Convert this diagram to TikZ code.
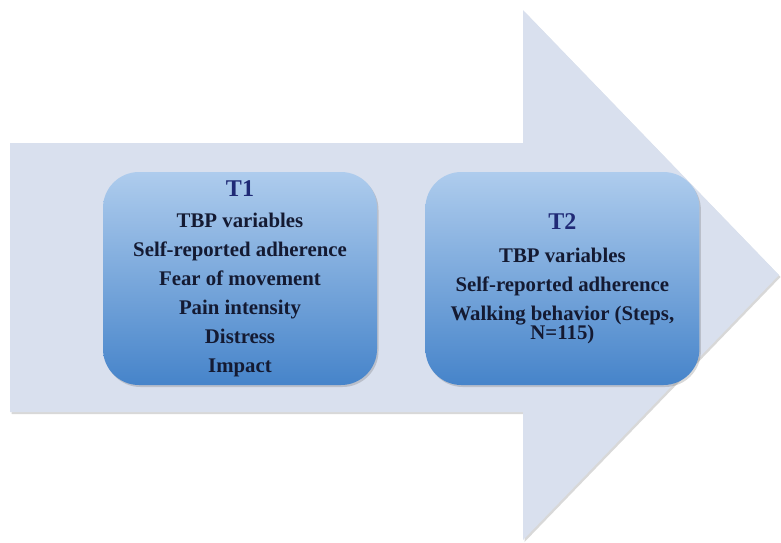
\documentclass[tikz,border=0pt]{standalone}
\usepackage{fontspec}
\setmainfont{Liberation Serif}
\usepackage{xcolor}
\usetikzlibrary{positioning,shadows}
\definecolor{arrowfill}{RGB}{217,224,238}
\definecolor{boxtop}{RGB}{174,204,237}
\definecolor{boxbottom}{RGB}{70,132,202}
\definecolor{titlenavy}{RGB}{32,42,118}
\definecolor{textdark}{RGB}{20,26,50}
\tikzset{
  softshadow/.style={drop shadow={opacity=0.22,shadow xshift=1.5pt,
    shadow yshift=-2pt,fill=black!70}},
  stagebox/.style={rounded corners=36pt,top color=boxtop,
    bottom color=boxbottom,draw=none,minimum width=274pt,
    minimum height=213pt,align=center,inner sep=0pt,text=textdark,
    font=\fontsize{20.8}{29}\selectfont\bfseries,softshadow}
}
\newcommand{\stagehead}[1]{\textcolor{titlenavy}{\fontsize{24}{29}\selectfont #1}}

\begin{document}
\begin{tikzpicture}[x=1pt,y=-1pt]
  \useasboundingbox (0,0) rectangle (781,542);
  % big time arrow
  \fill[arrowfill,softshadow] (10,143) -- (523,143) -- (523,10) -- (779,275)
    -- (523,540) -- (523,412) -- (10,412) -- cycle;
  % measurement points
  \node[stagebox] (tone) at (240,278.5)
    {\stagehead{T1}\\[2pt]
     TBP variables\\
     Self-reported adherence\\
     Fear of movement\\
     Pain intensity\\
     Distress\\
     Impact};
  \node[stagebox,right=48pt of tone] (ttwo)
    {\stagehead{T2}\\[4pt]
     TBP variables\\
     Self-reported adherence\\
     Walking behavior (Steps,\\[-10pt]
     N=115)};
\end{tikzpicture}
\end{document}
